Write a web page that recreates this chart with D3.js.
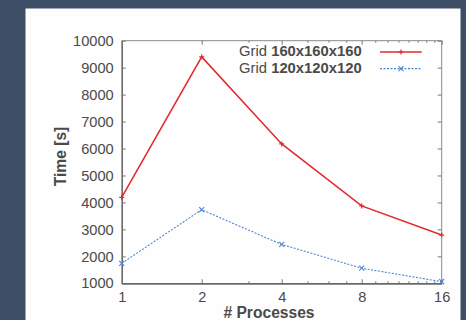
<!DOCTYPE html>
<html>
<head>
<meta charset="utf-8">
<script src="https://cdn.jsdelivr.net/npm/d3@7"></script>
<style>
  body { margin: 0; background: #3f4e67; }
  svg { display: block; }
</style>
</head>
<body>
<svg width="466" height="320"></svg>
<script>
var processes = [1, 2, 4, 8, 16];
var grid160 = [4190, 9400, 6170, 3870, 2790];
var grid120 = [1740, 3730, 2440, 1560, 1060];
var yTicks = [1000, 2000, 3000, 4000, 5000, 6000, 7000, 8000, 9000, 10000];
var xMinor = [3, 5, 6, 7, 9, 10, 11, 12, 13, 14, 15];

var svg = d3.select("svg"),
    width = +svg.attr("width"),
    height = +svg.attr("height");

var margin = {left: 121.7, right: 466 - 441.7, top: 40.7, bottom: 320 - 283.3};

// white panel behind the plot
svg.append("rect")
    .attr("x", 25.5).attr("y", 8.5)
    .attr("width", 435).attr("height", 320)
    .attr("fill", "#fefefe");

var x = d3.scaleLog().base(2)
    .domain([1, 16])
    .range([margin.left, width - margin.right]);

var y = d3.scaleLinear()
    .domain([1000, 10000])
    .range([height - margin.bottom, margin.top]);

var x0 = x.range()[0], x1 = x.range()[1],
    y0 = y.range()[0], y1 = y.range()[1];

var tickFont = "'Liberation Sans', Arial, sans-serif";

// frame, top and right lighter
svg.append("line").attr("x1", x0).attr("x2", x1).attr("y1", y1).attr("y2", y1)
    .attr("stroke", "#8a8a8a").attr("stroke-width", 1);
svg.append("line").attr("x1", x1).attr("x2", x1).attr("y1", y1).attr("y2", y0)
    .attr("stroke", "#8a8a8a").attr("stroke-width", 1);

// left axis
var yAxis = svg.append("g")
    .attr("transform", "translate(" + x0 + ",0)")
    .call(d3.axisLeft(y).tickValues(yTicks).tickFormat(d3.format("d"))
        .tickSizeInner(-4).tickSizeOuter(0).tickPadding(8));
yAxis.select(".domain").attr("stroke", "#6a6a6a").attr("stroke-width", 1.6);
yAxis.selectAll(".tick line").attr("stroke", "#777");
yAxis.selectAll(".tick text")
    .attr("font-family", tickFont).attr("font-size", "14.6px").attr("fill", "#4a4a4a");

// right mirror ticks
svg.append("g")
    .attr("transform", "translate(" + x1 + ",0)")
    .call(d3.axisRight(y).tickValues(yTicks).tickSizeInner(-4).tickSizeOuter(0).tickFormat(""))
    .call(function(g) { g.select(".domain").remove(); })
    .selectAll(".tick line").attr("stroke", "#777");

// bottom axis
var xAxis = svg.append("g")
    .attr("transform", "translate(0," + y0 + ")")
    .call(d3.axisBottom(x).tickValues(processes).tickFormat(d3.format("d"))
        .tickSizeInner(-4).tickSizeOuter(0).tickPadding(8));
xAxis.select(".domain").attr("stroke", "#6a6a6a").attr("stroke-width", 1.8);
xAxis.selectAll(".tick line").attr("stroke", "#777");
xAxis.selectAll(".tick text")
    .attr("font-family", tickFont).attr("font-size", "14.6px").attr("fill", "#4a4a4a");

// minor x ticks, bottom and top
svg.append("g")
    .attr("transform", "translate(0," + y0 + ")")
    .call(d3.axisBottom(x).tickValues(xMinor).tickSizeInner(-2).tickSizeOuter(0).tickFormat(""))
    .call(function(g) { g.select(".domain").remove(); })
    .selectAll(".tick line").attr("stroke", "#777");

svg.append("g")
    .attr("transform", "translate(0," + y1 + ")")
    .call(d3.axisTop(x).tickValues(processes).tickSizeInner(-4).tickSizeOuter(0).tickFormat(""))
    .call(function(g) { g.select(".domain").remove(); })
    .selectAll(".tick line").attr("stroke", "#777");

svg.append("g")
    .attr("transform", "translate(0," + y1 + ")")
    .call(d3.axisTop(x).tickValues(xMinor).tickSizeInner(-2).tickSizeOuter(0).tickFormat(""))
    .call(function(g) { g.select(".domain").remove(); })
    .selectAll(".tick line").attr("stroke", "#777");

// axis titles
svg.append("text")
    .attr("x", 269).attr("y", 318)
    .attr("text-anchor", "middle")
    .attr("font-family", tickFont).attr("font-size", "15.6px").attr("font-weight", "bold")
    .attr("fill", "#4a4a4a")
    .text("# Processes");

svg.append("text")
    .attr("transform", "translate(66,156.5) rotate(-90)")
    .attr("text-anchor", "middle")
    .attr("font-family", tickFont).attr("font-size", "15.6px").attr("font-weight", "bold")
    .attr("fill", "#4a4a4a")
    .text("Time [s]");

// series
var series = [
  {name: "160x160x160", values: grid160, color: "#e4282c", width: 1.5, dash: null, marker: "plus"},
  {name: "120x120x120", values: grid120, color: "#4a86d0", width: 1.1, dash: "2,1.5", marker: "cross"}
];

var line = d3.line()
    .x(function(d, i) { return x(processes[i]); })
    .y(function(d) { return y(d); });

function drawMarker(g, type, cx, cy, color) {
  var s = 2.5;
  if (type === "plus") {
    g.append("path").attr("d", "M" + (cx - s) + "," + cy + "H" + (cx + s) + "M" + cx + "," + (cy - s) + "V" + (cy + s))
      .attr("stroke", color).attr("stroke-width", 1.2).attr("fill", "none");
  } else {
    g.append("path").attr("d", "M" + (cx - s) + "," + (cy - s) + "L" + (cx + s) + "," + (cy + s) +
        "M" + (cx - s) + "," + (cy + s) + "L" + (cx + s) + "," + (cy - s))
      .attr("stroke", color).attr("stroke-width", 1.1).attr("fill", "none");
  }
}

series.forEach(function(s) {
  var g = svg.append("g");
  g.append("path")
      .datum(s.values)
      .attr("d", line)
      .attr("fill", "none")
      .attr("stroke", s.color)
      .attr("stroke-width", s.width)
      .attr("stroke-dasharray", s.dash);
  s.values.forEach(function(v, i) {
    drawMarker(g, s.marker, x(processes[i]), y(v), s.color);
  });
});

// legend
var legend = svg.append("g");
series.forEach(function(s, i) {
  var ly = 56 + i * 16.6;
  var t = legend.append("text")
      .attr("x", 361.7).attr("y", ly)
      .attr("text-anchor", "end")
      .attr("font-family", tickFont).attr("font-size", "14.8px")
      .attr("fill", "#4a4a4a");
  t.append("tspan").text("Grid ");
  t.append("tspan").attr("font-weight", "bold").text(s.name);
  legend.append("line")
      .attr("x1", 380).attr("x2", 421.7)
      .attr("y1", ly - 4).attr("y2", ly - 4)
      .attr("stroke", s.color).attr("stroke-width", s.width)
      .attr("stroke-dasharray", s.dash);
  drawMarker(legend, s.marker, 401, ly - 4, s.color);
});
</script>
</body>
</html>
